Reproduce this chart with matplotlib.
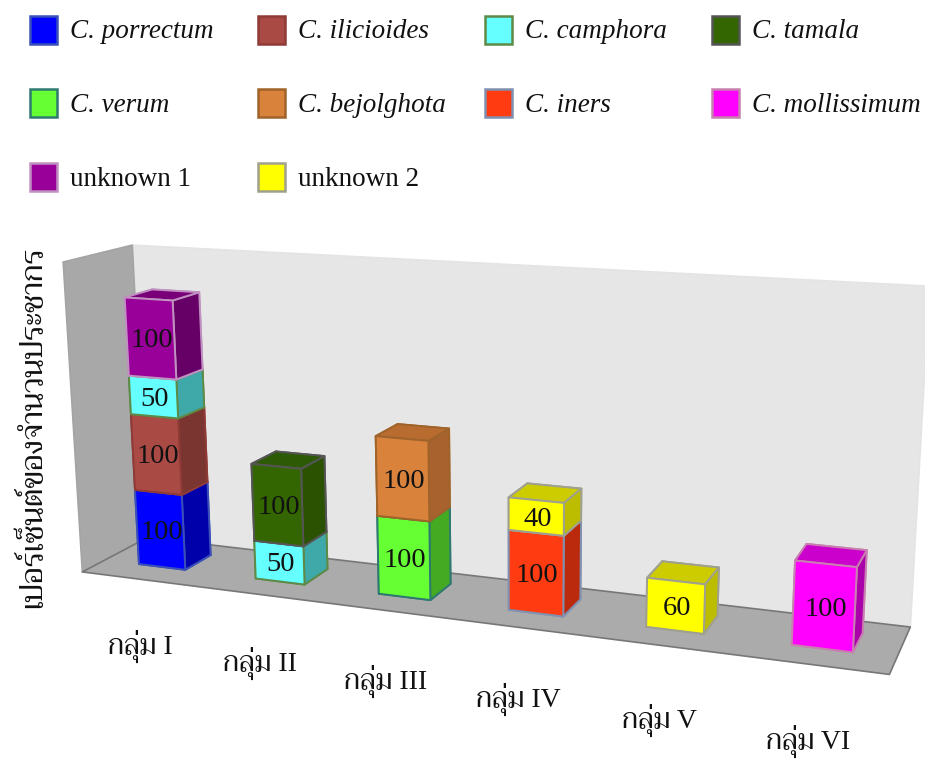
import matplotlib
matplotlib.use("Agg")
import matplotlib.pyplot as plt
from matplotlib.patches import Rectangle
from mpl_toolkits.mplot3d.art3d import Poly3DCollection
from mpl_toolkits.mplot3d import proj3d
import logging

logging.getLogger("matplotlib.font_manager").setLevel(logging.ERROR)

# ============================================================
# DADOS
# ============================================================

grupos = ["กลุ่ม I", "กลุ่ม II", "กลุ่ม III", "กลุ่ม IV", "กลุ่ม V", "กลุ่ม VI"]
eixo_y = "เปอร์เซ็นต์ของจำนวนประชากร"

especies = ["C. porrectum", "C. ilicioides", "C. camphora", "C. tamala", "C. verum",
            "C. bejolghota", "C. iners", "C. mollissimum", "unknown 1", "unknown 2"]

porrectum = [100, 0, 0, 0, 0, 0]
ilicioides = [100, 0, 0, 0, 0, 0]
camphora = [50, 50, 0, 0, 0, 0]
tamala = [0, 100, 0, 0, 0, 0]
verum = [0, 0, 100, 0, 0, 0]
bejolghota = [0, 0, 100, 0, 0, 0]
iners = [0, 0, 0, 100, 0, 0]
mollissimum = [0, 0, 0, 0, 0, 100]
unknown1 = [100, 0, 0, 0, 0, 0]
unknown2 = [0, 0, 0, 40, 60, 0]
series = [porrectum, ilicioides, camphora, tamala, verum, bejolghota, iners, mollissimum, unknown1, unknown2]

# frente, lateral, topo, borda
cores = [
    ("#0000ff", "#0000aa", "#0000bb", "#3a4fb8"),
    ("#aa4a45", "#7a3530", "#8a3a36", "#8f3a36"),
    ("#66ffff", "#3fa9a9", "#44bbbb", "#5d8a47"),
    ("#336600", "#2a5200", "#2d5a04", "#555555"),
    ("#66ff33", "#44aa22", "#4fc428", "#2f7a70"),
    ("#d9823b", "#a8622e", "#b86c30", "#a0632a"),
    ("#ff3b12", "#bb2a0d", "#cc2f0f", "#8090b0"),
    ("#ff00ff", "#aa00aa", "#cc00cc", "#c87fb0"),
    ("#990099", "#660066", "#7a007a", "#c090c0"),
    ("#ffff00", "#bdbd00", "#cccc00", "#a0a090"),
]

# ============================================================
# FIGURA E EIXO 3D
# ============================================================

W, H = 925, 760
fonte = ["Liberation Serif", "Trirong", "Taviraj", "Noto Serif Thai", "DejaVu Sans"]

fig = plt.figure(figsize=(W / 100, H / 100), dpi=100)
ax = fig.add_axes([12.383 / W, -141.125 / H, 899.988 / W, 899.988 / H], projection="3d", computed_zorder=False)
ax.set_proj_type("persp", focal_length=0.369)
ax.view_init(elev=14.061, azim=-68.721, roll=0.339)
ax.set_axis_off()

xa, xb = -0.511, 5.481
zmax = 400
largura = 0.403
y0, y1 = 0.327, 0.741

# paredes e piso
parede_fundo = [[(xa, 1, 0), (xb, 1, 0), (xb, 1, zmax), (xa, 1, zmax)]]
parede_esq = [[(xa, 0, 0), (xa, 1, 0), (xa, 1, zmax), (xa, 0, zmax)]]
piso = [[(xa, 0, 0), (xb, 0, 0), (xb, 1, 0), (xa, 1, 0)]]
for i, (poli, cor, borda) in enumerate([(parede_fundo, "#e6e6e6", "#e4e4e4"),
                                        (parede_esq, "#a8a8a8", "#a4a4a4"),
                                        (piso, "#ababab", "#777777")]):
    col = Poly3DCollection(poli, facecolors=cor, edgecolors=borda, linewidths=1.2, zorder=1 + i)
    ax.add_collection3d(col)
    col.set_clip_on(False)

# barras empilhadas
rotulos = []
for g in range(len(grupos)):
    base = 0
    for s, valores in enumerate(series):
        v = valores[g]
        if v == 0:
            continue
        frente, lado, topo, borda = cores[s]
        # ordem das faces: -z, +z, -y, +y, -x, +x
        faces = [topo, topo, frente, lado, lado, lado]
        barra = ax.bar3d(g - largura / 2, y0, base, largura, y1 - y0, v, color=faces,
                         edgecolor=borda, linewidth=1.4, shade=False)
        barra.set_zorder(10 + base / 1000 + g)
        barra.set_clip_on(False)
        rotulos.append((g + 0.01, y0, base + v / 2 - 3, str(v), 20.5))
        base += v
    rotulos.append((g, -0.06, -87, grupos[g], 20))

ax.set_xlim(xa, xb)
ax.set_ylim(0, 1)
ax.set_zlim(0, zmax)
ax.set_box_aspect((5.205, 0.810, 2.038))
ax.set_xticks([])
ax.set_yticks([])
ax.set_zticks([])

# textos no plano 2D do eixo, na posicao projetada
ax.apply_aspect()
M = ax.get_proj()
for x, y, z, txt, tam in rotulos:
    xp, yp, _ = proj3d.proj_transform(x, y, z, M)
    ax.text2D(xp, yp, txt, transform=ax.transData, ha="center", va="center", fontsize=tam,
              family=fonte, color="#111111", zorder=30, clip_on=False)

# ============================================================
# LEGENDA E ROTULO
# ============================================================

col_x = [30, 258, 485, 712]
lin_y = [16, 89, 163]
for i, nome in enumerate(especies):
    lin, col = divmod(i, 4)
    x, y = col_x[col], lin_y[lin]
    fig.add_artist(Rectangle((x / W, 1 - (y + 28) / H), 27 / W, 28 / H, transform=fig.transFigure,
                             facecolor=cores[i][0], edgecolor=cores[i][3], linewidth=1.8))
    estilo = "italic" if nome.startswith("C.") else "normal"
    fig.text((x + 40) / W, 1 - (y + 16) / H, nome, ha="left", va="center", fontsize=19.5,
             family="Liberation Serif", style=estilo, color="#111111")

fig.text(33 / W, 1 - 427 / H, eixo_y, rotation=90, ha="center", va="center", fontsize=22,
         family=fonte, color="#111111")

fig.savefig("out.png", dpi=100)
